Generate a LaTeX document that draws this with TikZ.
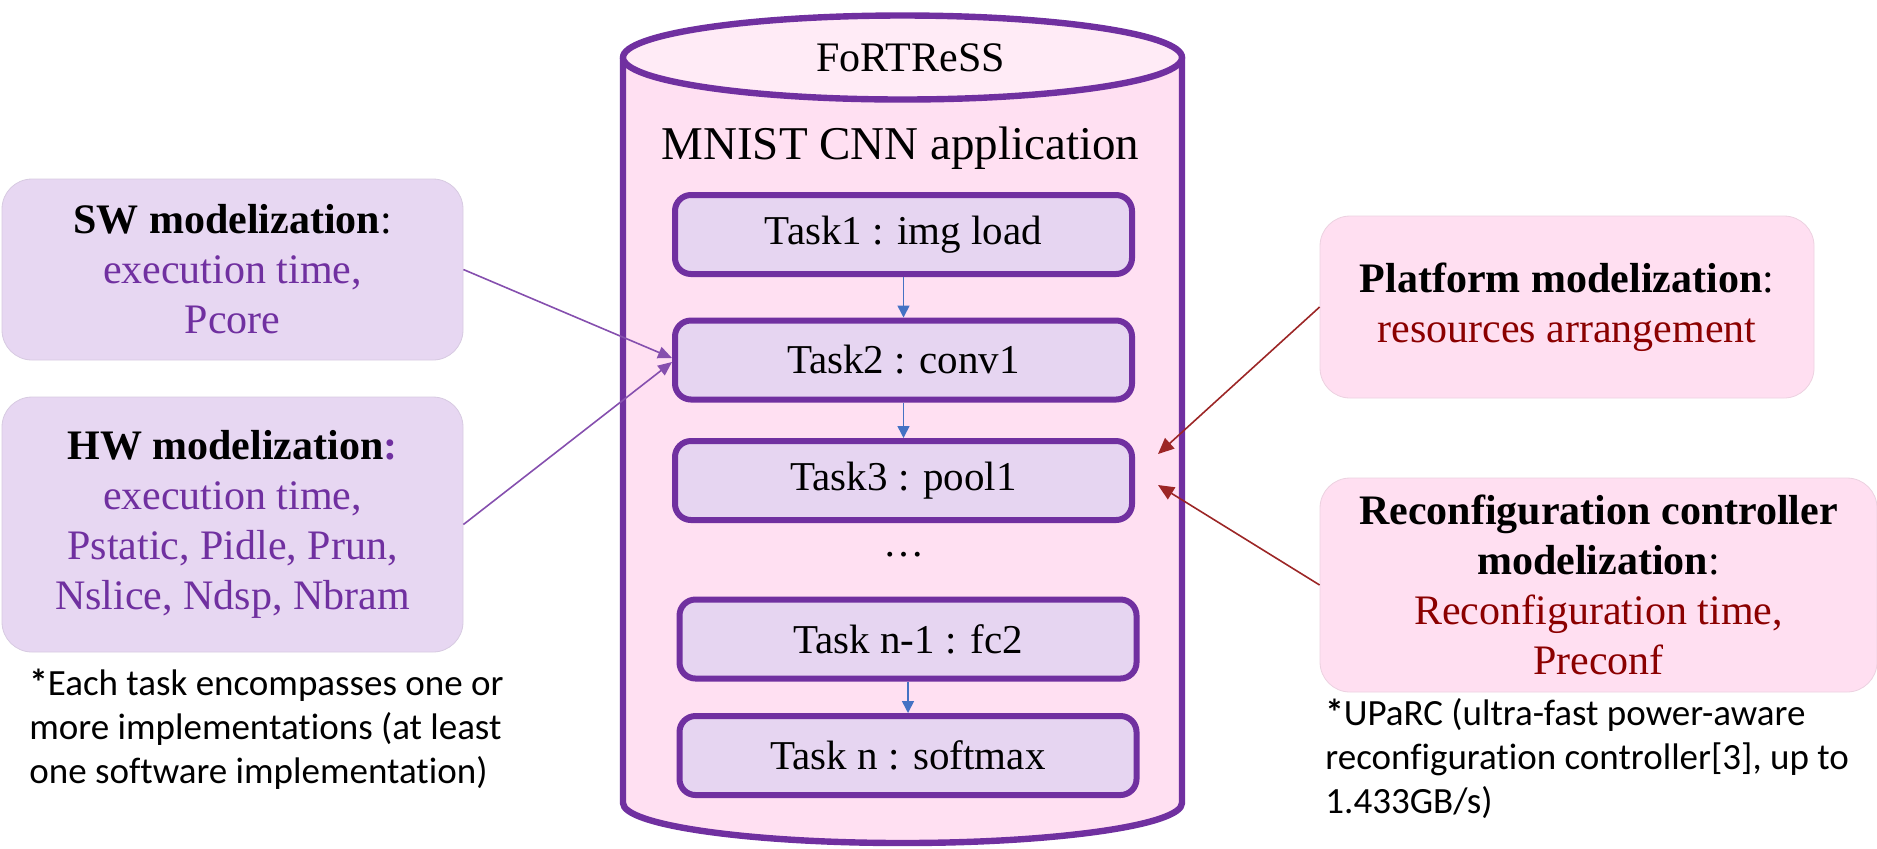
\documentclass[tikz,border=0pt]{standalone}
\usepackage{fontspec}
\setmainfont{Liberation Serif}
\newfontfamily\notefont[Ligatures={NoCommon}]{Carlito}
\usetikzlibrary{arrows.meta}
\definecolor{vio}{HTML}{7030A0}
\definecolor{dred}{HTML}{8B0000}
\definecolor{taskfill}{HTML}{E6D5F1}
\definecolor{cylbody}{HTML}{FFE0F2}
\definecolor{cyltop}{HTML}{FFEBF6}
\definecolor{lavbox}{HTML}{E7D7F2}
\definecolor{pinkbox}{HTML}{FFDFF1}
\definecolor{bluearr}{HTML}{4472C4}
\tikzset{
  taskbox/.style={draw=vio, line width=3pt, fill=taskfill, rounded corners=8pt,
    minimum width=228.5pt, minimum height=39.5pt, inner sep=0pt,
    font=\fontsize{20.5}{24}\selectfont},
  sidebox/.style={rounded corners=15pt, inner sep=0pt, align=center,
    font=\fontsize{21}{25}\selectfont},
  lavside/.style={sidebox, fill=lavbox, draw=lavbox!85!gray, line width=0.4pt},
  pinkside/.style={sidebox, fill=pinkbox, draw=pinkbox!85!gray, line width=0.4pt},
  barrow/.style={draw=bluearr, line width=0.8pt, -{Triangle[length=6pt,width=6pt]}},
  parrow/.style={draw=vio!85, line width=0.8pt, -{Triangle[length=7pt,width=6pt]}},
  rarrow/.style={draw=dred!85, line width=0.8pt, -{Triangle[length=8pt,width=7pt]}},
  note/.style={font=\notefont\fontsize{18.5}{22}\selectfont, align=left, inner sep=0pt, anchor=base west}
}
\begin{document}
\begin{tikzpicture}[x=0.5pt, y=-0.5pt]
\useasboundingbox (0,0) rectangle (1877,848);
% cylinder
\fill[cylbody] (623,57.5) -- (623,803) arc[start angle=180, end angle=0, x radius=279.5, y radius=40] -- (1182,57.5) -- cycle;
\draw[vio, line width=3.2pt] (623,57.5) -- (623,803) arc[start angle=180, end angle=0, x radius=279.5, y radius=40] -- (1182,57.5);
\draw[vio, line width=3.2pt, fill=cyltop] (902.5,57.5) ellipse [x radius=279.5, y radius=42];
\node[anchor=base, inner sep=0pt, font=\fontsize{21}{25}\selectfont] (fortress) at (910.5,71) {FoRTReSS};
\node[anchor=base, inner sep=0pt, font=\fontsize{23.5}{28}\selectfont] (mnist) at (900.5,159) {MNIST CNN application};
% tasks
\node[taskbox] (t1) at (903.5,234.5) {Task1 : img load};
\node[taskbox] (t2) at (903.5,360) {Task2 : conv1};
\node[taskbox] (t3) at (903.5,480.5) {Task3 : pool1};
\node[anchor=base, inner sep=0pt, font=\fontsize{20.5}{24}\selectfont] (dots) at (904,556) {\ldots};
\node[taskbox] (tn1) at (908,639) {Task n-1 : fc2};
\node[taskbox] (tn) at (908,755.5) {Task n : softmax};
\draw[barrow] (t1.south) -- (t2.north);
\draw[barrow] (t2.south) -- (t3.north);
\draw[barrow] (tn1.south) -- (tn.north);
% left boxes
\node[lavside, minimum width=230.5pt, minimum height=90.5pt] (sw) at (232.5,269.5)
  {\textbf{SW modelization}:\\ \textcolor{vio}{execution time,}\\ \textcolor{vio}{Pcore}};
\node[lavside, minimum width=230.5pt, minimum height=127.5pt] (hw) at (232.5,524.5)
  {\textbf{HW modelization\textcolor{vio}{:}}\\ \textcolor{vio}{execution time,}\\ \textcolor{vio}{Pstatic, Pidle, Prun,}\\ \textcolor{vio}{Nslice, Ndsp, Nbram}};
\draw[parrow] (sw.east) -- ([yshift=1pt]t2.west);
\draw[parrow] (hw.east) -- ([yshift=-1pt]t2.west);
\node[note] (lnote) at (29,783) {\textbf{*}Each task encompasses one or\\more implementations (at least\\one software implementation)};
% right boxes
\node[pinkside, minimum width=247pt, minimum height=91pt] (pf) at (1567,307)
  {\textbf{Platform modelization}:\\ \textcolor{dred}{resources arrangement}};
\node[pinkside, minimum width=278.5pt, minimum height=107pt] (rc) at (1598.5,585)
  {\textbf{Reconfiguration controller}\\ \textbf{modelization}:\\ \textcolor{dred}{Reconfiguration time,}\\ \textcolor{dred}{Preconf}};
\coordinate (ptip) at (1158,454);
\coordinate (rtip) at (1158,485);
\draw[rarrow] (pf.west) -- (ptip);
\draw[rarrow] (rc.west) -- (rtip);
\node[note] (rnote) at (1325,813) {\textbf{*}UPaRC (ultra-fast power-aware\\reconfiguration controller[3], up to\\1.433GB/s)};
\end{tikzpicture}
\end{document}
